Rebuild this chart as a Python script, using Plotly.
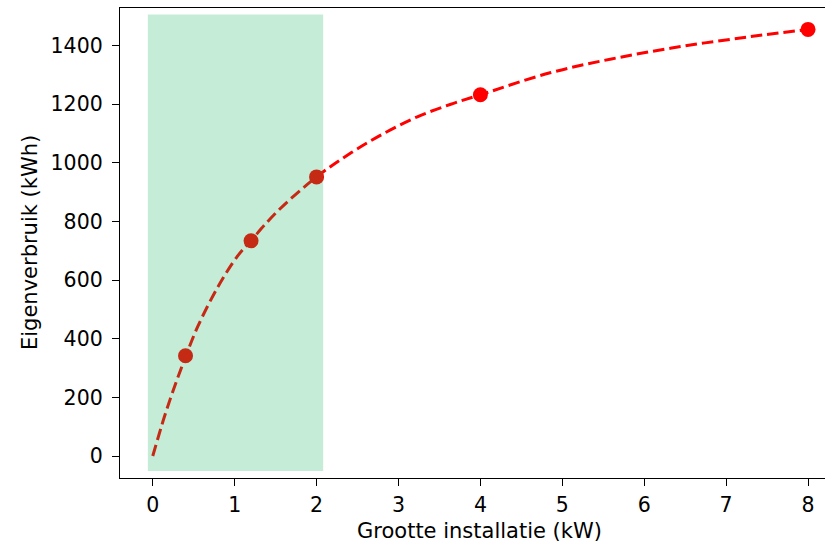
import plotly.graph_objects as go

# Measured points
size_kw = [0.4, 1.2, 2, 4, 8]
self_use_kwh = [342, 734, 952, 1232, 1455]

# Dashed trend curve
curve_x = [0, 0.14, 0.26, 0.4, 0.55, 0.79, 1.03, 1.2, 1.52, 2, 2.42, 2.82, 3.23, 3.63, 4, 4.85, 5.67, 6.48, 7.29, 8]
curve_y = [0, 132, 232, 338, 442, 574, 680, 735, 834, 952, 1034, 1100, 1157, 1199, 1232, 1307, 1358, 1398, 1430, 1455]

# Highlighted span
span_x = [-0.06, 2.08]
span_y = [-51, 1506]

x_ticks = [0, 1, 2, 3, 4, 5, 6, 7, 8]
y_ticks = [0, 200, 400, 600, 800, 1000, 1200, 1400]

x_title = "Grootte installatie (kW)"
y_title = "Eigenverbruik (kWh)"

FONT = "DejaVu Sans"

fig = go.Figure()
fig.add_trace(go.Scatter(
    x=curve_x, y=curve_y, mode="lines", line_shape="spline",
    line=dict(color="red", width=3, dash="11.5px,5px"),
    hoverinfo="skip", showlegend=False,
))
fig.add_trace(go.Scatter(
    x=size_kw, y=self_use_kwh, mode="markers",
    marker=dict(color="red", size=15, line=dict(width=0)),
    showlegend=False,
))
fig.add_shape(
    type="rect", xref="x", yref="y",
    x0=span_x[0], x1=span_x[1], y0=span_y[0], y1=span_y[1],
    fillcolor="rgb(12,176,88)", opacity=0.24, line=dict(width=0),
    layer="above",
)

axis_common = dict(
    showgrid=False, zeroline=False, showline=True, linecolor="black",
    linewidth=1.3, ticks="outside", ticklen=7, tickwidth=1.3, automargin=False,
    tickcolor="black", tickfont=dict(family=FONT, size=20.5, color="black"),
)

fig.update_layout(
    width=825, height=543,
    margin=dict(l=120, r=0, t=8, b=65),
    paper_bgcolor="white", plot_bgcolor="white",
    font=dict(family=FONT, size=20, color="black"),
    xaxis=dict(
        range=[-0.4, 8.207], tickvals=x_ticks, ticktext=[str(v) for v in x_ticks],
        ticklabelstandoff=1, mirror=True,
        **axis_common,
    ),
    yaxis=dict(
        range=[-75, 1528], tickvals=y_ticks, ticktext=[str(v) for v in y_ticks],
        ticklabelstandoff=5, mirror=False,
        **axis_common,
    ),
    annotations=[
        dict(text=x_title, xref="paper", yref="paper", x=0.5106, y=0,
             xanchor="center", yanchor="middle", yshift=-53, showarrow=False,
             font=dict(family=FONT, size=21, color="black")),
        dict(text=y_title, xref="paper", yref="paper", x=0, y=0.5,
             xanchor="center", yanchor="middle", xshift=-90, textangle=-90,
             showarrow=False, font=dict(family=FONT, size=21, color="black")),
    ],
)

fig.write_html("out.html")
